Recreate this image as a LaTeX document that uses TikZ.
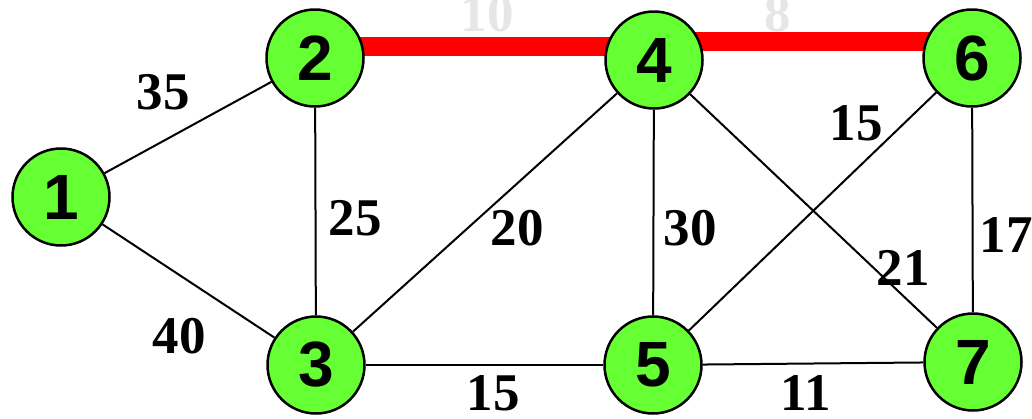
\documentclass[tikz,border=0pt]{standalone}
\usepackage{fontspec}
\setmainfont{Liberation Serif}
\newfontfamily\nodefont{Liberation Sans}
\usetikzlibrary{backgrounds}
\definecolor{nodegreen}{RGB}{102,255,51}
\definecolor{faintgray}{RGB}{230,230,230}
\tikzset{
  vertex/.style={circle, draw=black, line width=2.5pt, fill=nodegreen,
    minimum size=97pt, inner sep=0pt, font=\nodefont\bfseries\fontsize{64}{64}\selectfont},
  edge/.style={draw=black, line width=2pt},
  chosen/.style={draw=red, line width=19pt},
  weight/.style={font=\bfseries\fontsize{53}{53}\selectfont, inner sep=0pt},
  oldweight/.style={weight, text=faintgray, anchor=base}
}
\begin{document}
\begin{tikzpicture}[x=1pt, y=-1pt]
  \useasboundingbox (0,0) rectangle (1032,418);

  % vertices
  \node[vertex] (n1) at (61,197) {1};
  \node[vertex] (n2) at (315,58) {2};
  \node[vertex] (n3) at (316,365) {3};
  \node[vertex] (n4) at (654,60) {4};
  \node[vertex] (n5) at (653,365) {5};
  \node[vertex] (n6) at (972,58) {6};
  \node[vertex] (n7) at (973,362) {7};

  \begin{pgfonlayer}{background}
    % selected edges
    \draw[chosen] ([yshift=12pt]n2.center) -- ([yshift=14pt]n4.center);
    \draw[chosen] ([yshift=18.5pt]n4.center) -- ([yshift=16.5pt]n6.center);
    % remaining edges
    \draw[edge] (n1) -- (n2);
    \draw[edge] (n1) -- (n3);
    \draw[edge] (n2) -- (n3);
    \draw[edge] (n3) -- (n4);
    \draw[edge] (n3) -- (n5);
    \draw[edge] (n4) -- (n5);
    \draw[edge] (n4) -- (n7);
    \draw[edge] (n5) -- (n6);
    \draw[edge] (n5) -- (n7);
    \draw[edge] (n6) -- (n7);
  \end{pgfonlayer}

  % weights
  \node[oldweight] (w24) at (487,31) {10};
  \node[oldweight] (w46) at (778,31) {8};
  \node[weight] (w12) at (163,92) {35};
  \node[weight] (w13) at (179,336) {40};
  \node[weight] (w23) at (355,218) {25};
  \node[weight] (w34) at (517,228) {20};
  \node[weight] (w45) at (690,228) {30};
  \node[weight] (w56) at (856,123) {15};
  \node[weight] (w47) at (903,268) {21};
  \node[weight] (w67) at (1006,235) {17};
  \node[weight] (w35) at (493,393) {15};
  \node[weight] (w57) at (806,393) {11};
\end{tikzpicture}
\end{document}
